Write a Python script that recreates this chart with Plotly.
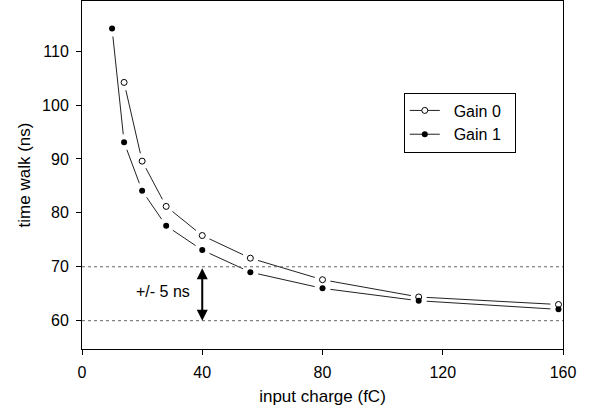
import math
import plotly.graph_objects as go

charge = [10, 14, 20, 28, 40, 56, 80, 112, 158.5]
gain0_x = [14, 20, 28, 40, 56, 80, 112, 158.5]
gain0_y = [104.2, 89.6, 81.2, 75.8, 71.6, 67.6, 64.4, 63.0]
gain1_x = charge
gain1_y = [114.2, 93.1, 84.1, 77.6, 73.1, 69.0, 66.0, 63.7, 62.1]

x_ticks = [0, 40, 80, 120, 160]
y_ticks = [60, 70, 80, 90, 100, 110]
band = [60, 70]

X_RANGE = [0, 160]
Y_RANGE = [54.75, 119.3]

W, H = 590, 413
M = dict(l=82, r=27, t=1, b=64)
PX_X = (W - M["l"] - M["r"]) / (X_RANGE[1] - X_RANGE[0])
PX_Y = (H - M["t"] - M["b"]) / (Y_RANGE[1] - Y_RANGE[0])
GAP = 8  # pixel gap left between a marker and its connecting line

FONT = "Arial, Liberation Sans, sans-serif"
LINE_COL = "#222222"


def gapped(xs, ys):
    """Segments between consecutive points, trimmed near each marker."""
    ox, oy = [], []
    for (x0, y0), (x1, y1) in zip(zip(xs, ys), zip(xs[1:], ys[1:])):
        dx, dy = (x1 - x0) * PX_X, (y1 - y0) * PX_Y
        d = math.hypot(dx, dy)
        f = GAP / d if d > 2 * GAP else 0.5
        ox += [x0 + (x1 - x0) * f, x1 - (x1 - x0) * f, None]
        oy += [y0 + (y1 - y0) * f, y1 - (y1 - y0) * f, None]
    return ox, oy


def isolated(xs, ys):
    ox, oy = [], []
    for a, b in zip(xs, ys):
        ox += [a, None]
        oy += [b, None]
    return ox, oy


fig = go.Figure()

for xs, ys in [(gain0_x, gain0_y), (gain1_x, gain1_y)]:
    lx, ly = gapped(xs, ys)
    fig.add_trace(go.Scatter(x=lx, y=ly, mode="lines", showlegend=False,
                             connectgaps=False,
                             line=dict(color=LINE_COL, width=1), hoverinfo="skip"))

gx, gy = isolated(gain0_x, gain0_y)
fig.add_trace(go.Scatter(x=gx, y=gy, mode="lines+markers",
                         name="\u00a0\u00a0Gain 0\u00a0\u00a0",
                         connectgaps=False,
                         line=dict(color=LINE_COL, width=1),
                         marker=dict(symbol="circle", size=6, color="white",
                                     line=dict(color="black", width=1))))
gx, gy = isolated(gain1_x, gain1_y)
fig.add_trace(go.Scatter(x=gx, y=gy, mode="lines+markers",
                         name="\u00a0\u00a0Gain 1\u00a0\u00a0",
                         connectgaps=False,
                         line=dict(color=LINE_COL, width=1),
                         marker=dict(symbol="circle", size=6, color="black",
                                     line=dict(color="black", width=0))))

for yv in band:
    fig.add_shape(type="line", xref="paper", x0=0, x1=1, yref="y", y0=yv, y1=yv,
                  line=dict(color="#666666", width=1, dash="dot"), layer="above")

fig.add_annotation(x=40, y=band[0], ax=40, ay=band[1], xref="x", yref="y",
                   axref="x", ayref="y", showarrow=True, arrowhead=2,
                   arrowside="end+start", arrowwidth=2, arrowsize=1.1,
                   arrowcolor="black", text="")
fig.add_annotation(x=27, y=65.4, xref="x", yref="y", text="+/- 5 ns",
                   showarrow=False, font=dict(size=16, color="black", family=FONT))

axis_common = dict(showline=True, linecolor="black", linewidth=1, mirror=True,
                   ticks="outside", ticklen=5, tickcolor="black", showgrid=False,
                   zeroline=False, layer="above traces",
                   tickfont=dict(size=16, color="black", family=FONT))

fig.update_layout(
    width=W, height=H,
    margin=M,
    paper_bgcolor="white", plot_bgcolor="white",
    font=dict(family=FONT, size=16, color="black"),
    xaxis=dict(range=X_RANGE, tickvals=x_ticks, ticklabelstandoff=4,
               title=dict(text="input charge (fC)", font=dict(size=17), standoff=9),
               **axis_common),
    yaxis=dict(range=Y_RANGE, tickvals=y_ticks, ticklabelstandoff=4,
               title=dict(text="time walk (ns)", font=dict(size=17), standoff=7),
               **axis_common),
    legend=dict(x=0.669, y=0.737, xanchor="left", yanchor="top",
                bordercolor="black", borderwidth=1, bgcolor="white",
                font=dict(size=16, family=FONT), tracegroupgap=0, itemwidth=30),
    showlegend=True,
)

fig.write_html("out.html")
